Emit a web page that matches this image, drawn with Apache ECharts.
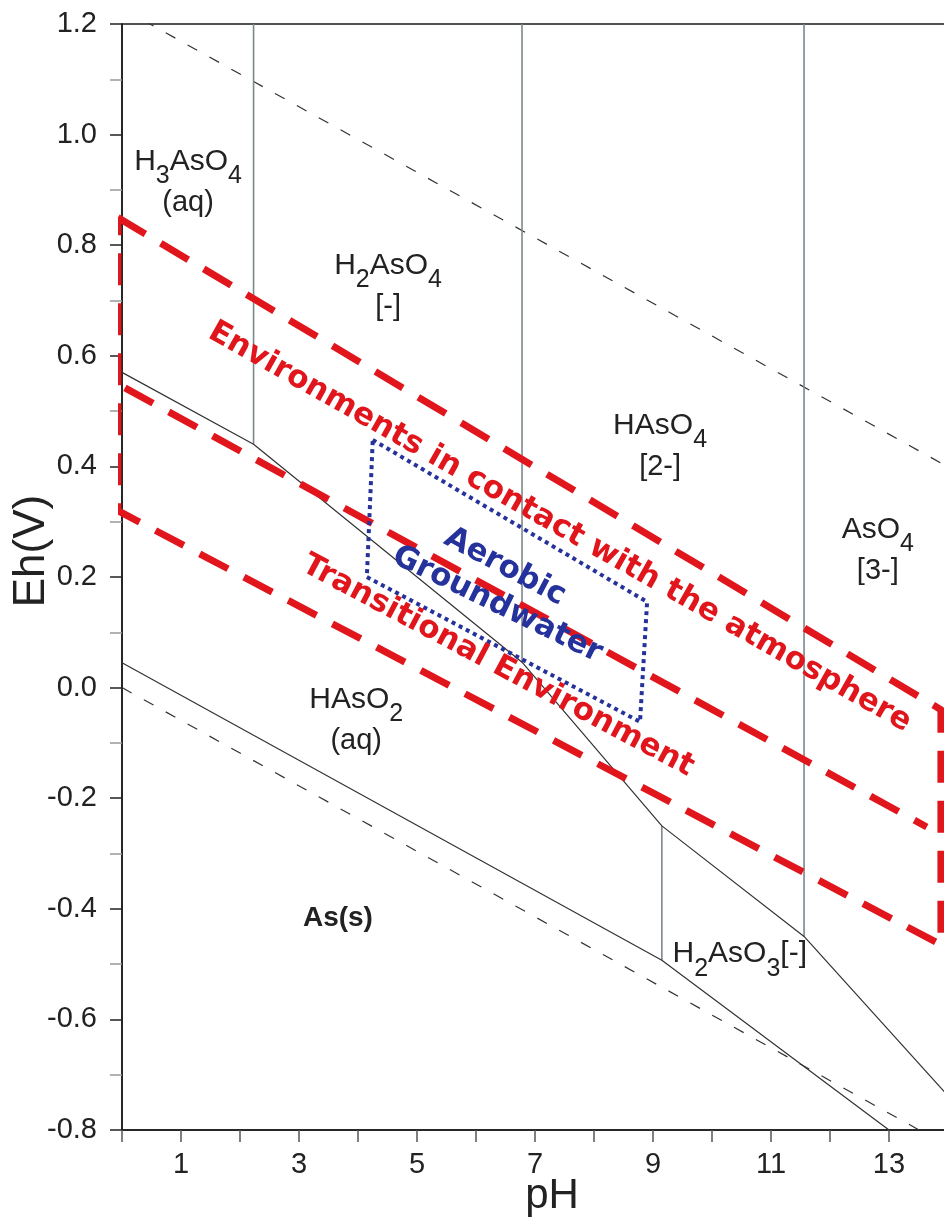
<!DOCTYPE html>
<html>
<head>
<meta charset="utf-8">
<script src="https://cdn.jsdelivr.net/npm/echarts@6/dist/echarts.min.js"></script>
<style>
html,body{margin:0;padding:0;background:#fff;}
#c{width:944px;height:1220px;}
</style>
</head>
<body>
<div id="c"></div>
<script>
// ---------------- DATA ----------------
// labelled pH ticks
const xTickValues = [1, 3, 5, 7, 9, 11, 13];

// water stability limits (dashed)
const waterUpper_pH = [0, 14];
const waterUpper_Eh = [1.228, 0.399];
const waterLower_pH = [0, 14];
const waterLower_Eh = [0.0, -0.829];

// As(V) / As(III) boundary
const asV_pH = [0, 2.23, 6.78, 9.15, 11.56, 14];
const asV_Eh = [0.57, 0.44, 0.046, -0.25, -0.45, -0.738];

// As(III) / As(s) boundary
const as0_pH = [0, 9.15, 13.0];
const as0_Eh = [0.045, -0.493, -0.80];

// vertical (acid-base) boundaries
const vLine_pH = [2.23, 6.78, 9.15, 11.56];
const vLine_top = [1.2, 1.2, -0.25, 1.2];
const vLine_bottom = [0.44, 0.046, -0.493, -0.45];

// red dashed zone outline (atmosphere + transitional)
const zoneOutline_pH = [-0.07, 13.88, 13.88, -0.07, -0.07];
const zoneOutline_Eh = [0.85, -0.04, -0.465, 0.32, 0.85];
// red dashed divider between the two zones
const zoneDivider_pH = [0.05, 13.64];
const zoneDivider_Eh = [0.542, -0.252];

// blue dotted aerobic groundwater box
const aerobic_pH = [4.25, 8.90, 8.78, 4.15, 4.25];
const aerobic_Eh = [0.448, 0.155, -0.062, 0.200, 0.448];

// species labels
const speciesFormula = ['H3AsO4', 'H2AsO4', 'HAsO4', 'AsO4', 'HAsO2', 'H2AsO3[-]'];
const speciesSecond = ['(aq)', '[-]', '[2-]', '[3-]', '(aq)', ''];
const species_pH = [1.12, 4.51, 9.12, 12.81, 3.97, 10.47];
const species_Eh = [0.909, 0.722, 0.432, 0.244, -0.063, -0.493];

const solidName = 'As(s)';
const solid_pH = 3.66;
const solid_Eh = -0.417;

// zone labels
const zoneText = ['Environments in contact with the atmosphere', 'Transitional Environment'];
const zoneText_pH = [7.42, 6.37];
const zoneText_Eh = [0.290, 0.039];

const aerobicText = ['Aerobic', 'Groundwater'];
const aerobicText_pH = [6.49, 6.36];
const aerobicText_Eh = [0.218, 0.150];

// ---------------- CHART ----------------
const FONT = "'Liberation Sans', Arial, Helvetica, sans-serif";
const BOLDFONT = "'DejaVu Sans', Verdana, sans-serif";
const RED = '#e1161c';
const BLUE = '#26329c';
const pairs = (xs, ys) => xs.map((x, i) => [x, ys[i]]);

const chart = echarts.init(document.getElementById('c'), null, {renderer: 'canvas', width: 944, height: 1220});

function formulaRich(str) {
  return str.split(/(\d)/).filter(s => s.length).map(p => /^\d$/.test(p) ? '{s|' + p + '}' : '{m|' + p + '}').join('');
}

const series = [];

const thinLine = (data, color, width, type, z) => ({
  type: 'line', data: data, symbol: 'none', silent: true, animation: false, z: z,
  lineStyle: {color: color, width: width, type: type}
});

series.push(thinLine(pairs(waterUpper_pH, waterUpper_Eh), '#333', 1.2, [11, 14], 2));
series.push(thinLine(pairs(waterLower_pH, waterLower_Eh), '#333', 1.2, [11, 14], 2));
vLine_pH.forEach((p, i) => {
  series.push(thinLine([[p, vLine_bottom[i]], [p, vLine_top[i]]], '#7d878c', 1.6, 'solid', 2));
});
series.push(thinLine(pairs(asV_pH, asV_Eh), '#333', 1.2, 'solid', 3));
series.push(thinLine(pairs(as0_pH, as0_Eh), '#333', 1.2, 'solid', 3));

const redOutline = thinLine(pairs(zoneOutline_pH, zoneOutline_Eh), RED, 7, [32, 18], 5);
redOutline.clip = false;
redOutline.lineStyle.cap = 'butt';
redOutline.lineStyle.join = 'round';
series.push(redOutline);
const redDivider = thinLine(pairs(zoneDivider_pH, zoneDivider_Eh), RED, 7, [32, 18], 5);
redDivider.clip = false;
series.push(redDivider);

const blueBox = thinLine(pairs(aerobic_pH, aerobic_Eh), BLUE, 4, [4, 4], 6);
blueBox.clip = false;
series.push(blueBox);

// text labels via invisible scatter points
const labelData = [];
speciesFormula.forEach((f, i) => {
  let txt = formulaRich(f);
  if (speciesSecond[i]) txt += '\n{l|' + speciesSecond[i] + '}';
  labelData.push({
    value: [species_pH[i], species_Eh[i]],
    label: {
      formatter: txt,
      rich: {
        m: {fontSize: 30, fontFamily: FONT, color: '#222', lineHeight: 30, verticalAlign: 'top'},
        s: {fontSize: 25, fontFamily: FONT, color: '#222', padding: [17, 0, 0, 0], verticalAlign: 'top'},
        l: {fontSize: 29, fontFamily: FONT, color: '#222', lineHeight: 34, verticalAlign: 'top'}
      }
    }
  });
});
labelData.push({
  value: [solid_pH, solid_Eh],
  label: {formatter: solidName, fontSize: 28, fontWeight: 'bold', fontFamily: FONT, color: '#222'}
});
const zoneAngles = [-29.5, -28];
zoneText.forEach((t, i) => {
  labelData.push({
    value: [zoneText_pH[i], zoneText_Eh[i]],
    label: {formatter: t, rotate: zoneAngles[i], fontSize: 31, fontWeight: 'bold', fontFamily: BOLDFONT, color: RED}
  });
});
const aerobicAngles = [-28, -26];
aerobicText.forEach((t, i) => {
  labelData.push({
    value: [aerobicText_pH[i], aerobicText_Eh[i]],
    label: {formatter: t, rotate: aerobicAngles[i], fontSize: 31, fontWeight: 'bold', fontFamily: BOLDFONT, color: BLUE}
  });
});

series.push({
  type: 'scatter', data: labelData, symbolSize: 1, silent: true, animation: false, z: 10,
  itemStyle: {color: 'rgba(0,0,0,0)', opacity: 1},
  label: {show: true, position: 'inside', align: 'center', verticalAlign: 'middle', opacity: 1},
  clip: false
});

chart.setOption({
  animation: false,
  backgroundColor: '#fff',
  grid: {left: 122, top: 24, width: 826, bottom: 90, containLabel: false, outerBoundsMode: 'none',
    show: true, borderColor: '#1a1a1a', borderWidth: 1.5, backgroundColor: 'transparent'},
  xAxis: {
    type: 'value', min: 0, max: 14, interval: 1,
    axisLine: {show: true, onZero: false, lineStyle: {color: '#1a1a1a', width: 1.5}},
    axisTick: {show: true, length: 12, lineStyle: {color: '#555', width: 1.5}},
    axisLabel: {fontSize: 29, fontFamily: FONT, color: '#222', margin: 20,
      formatter: v => xTickValues.indexOf(Math.round(v)) >= 0 ? String(Math.round(v)) : ''},
    splitLine: {show: false},
    name: 'pH', nameLocation: 'middle', nameGap: 45, nameMoveOverlap: false,
    nameTextStyle: {fontSize: 42, fontFamily: FONT, color: '#222', padding: [0, 0, 0, 34]}
  },
  yAxis: {
    type: 'value', min: -0.8, max: 1.2, interval: 0.2,
    axisLine: {show: true, onZero: false, lineStyle: {color: '#1a1a1a', width: 1.5}},
    axisTick: {show: true, length: 12, lineStyle: {color: '#222', width: 1.5}},
    minorTick: {show: true, splitNumber: 2, length: 12, lineStyle: {color: '#999', width: 1.5}},
    axisLabel: {fontSize: 29, fontFamily: FONT, color: '#222', margin: 25,
      formatter: v => (Math.abs(v) < 1e-9 ? 0 : v).toFixed(1)},
    splitLine: {show: false},
    name: 'Eh(V)', nameLocation: 'middle', nameGap: 68, nameMoveOverlap: false,
    nameTextStyle: {fontSize: 44, fontFamily: FONT, color: '#222', padding: [0, 0, 0, 52]}
  },
  series: series
});
</script>
</body>
</html>
